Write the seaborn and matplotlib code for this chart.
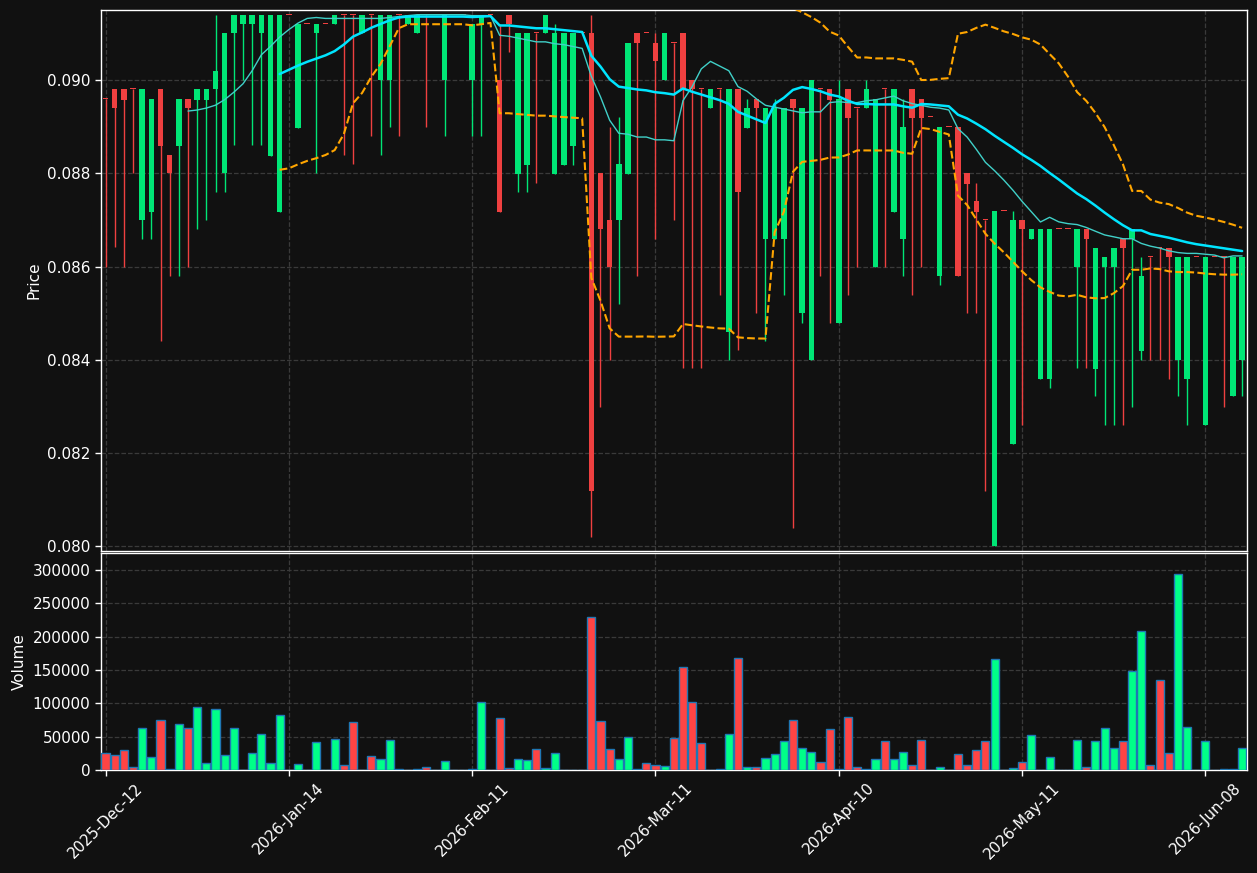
import numpy as np
import pandas as pd
import matplotlib
matplotlib.use("Agg")
import matplotlib.pyplot as plt
import seaborn as sns

tick_labels = ['2025-Dec-12', '2026-Jan-14', '2026-Feb-11', '2026-Mar-11',
               '2026-Apr-10', '2026-May-11', '2026-Jun-08']

opens = [0.08959, 0.08981, 0.08981, 0.08981, 0.08699, 0.08718, 0.08981, 0.0884, 0.08859, 0.08959,
         0.08958, 0.08958, 0.0898, 0.0880, 0.0910, 0.0912, 0.0912, 0.0910, 0.08838, 0.08718,
         0.0914, 0.08898, 0.0912, 0.0910, 0.0912, 0.0912, 0.0914, 0.0914, 0.0910, 0.0914,
         0.0900, 0.0900, 0.0914, 0.0912, 0.0910, 0.0914, 0.0914, 0.0900, 0.0914, 0.0914,
         0.0900, 0.0912, 0.0914, 0.0900, 0.0914, 0.08799, 0.08818, 0.0910, 0.0910, 0.08799,
         0.08818, 0.08859, 0.0910, 0.0910, 0.0880, 0.0870, 0.08699, 0.08799, 0.0910, 0.0910,
         0.0908, 0.0900, 0.0908, 0.0910, 0.0900, 0.0898, 0.08939, 0.0898, 0.08459, 0.0898,
         0.08898, 0.08959, 0.08658, 0.08658, 0.08658, 0.08959, 0.0850, 0.0840, 0.0898, 0.0898,
         0.0848, 0.0898, 0.0894, 0.08939, 0.08598, 0.0898, 0.08718, 0.08658, 0.0898, 0.08959,
         0.0892, 0.0858, 0.0890, 0.0890, 0.0880, 0.08741, 0.0870, 0.0800, 0.0872, 0.08219,
         0.0870, 0.08658, 0.08358, 0.08358, 0.0868, 0.0868, 0.08598, 0.0868, 0.0838, 0.08598,
         0.08598, 0.0866, 0.08658, 0.08418, 0.08621, 0.08639, 0.08639, 0.0840, 0.08358, 0.08621,
         0.08261, 0.08621, 0.08621, 0.08322, 0.0840]

highs = [0.08959, 0.08981, 0.08981, 0.08981, 0.08981, 0.08959, 0.08981, 0.0884, 0.08959, 0.08959,
         0.08981, 0.08981, 0.0914, 0.0910, 0.0914, 0.0914, 0.0914, 0.0914, 0.0914, 0.0914,
         0.0914, 0.0912, 0.0912, 0.0912, 0.0912, 0.0914, 0.0914, 0.0914, 0.0914, 0.0914,
         0.0914, 0.0914, 0.0914, 0.0914, 0.0914, 0.0914, 0.0914, 0.0914, 0.0914, 0.0914,
         0.0912, 0.0914, 0.0914, 0.0912, 0.0914, 0.0910, 0.0910, 0.0910, 0.0914, 0.0912,
         0.0910, 0.0910, 0.0910, 0.0914, 0.0880, 0.08899, 0.0892, 0.0908, 0.0910, 0.0910,
         0.0910, 0.0910, 0.0908, 0.0910, 0.0900, 0.0898, 0.0898, 0.0898, 0.0898, 0.0898,
         0.08959, 0.08959, 0.0894, 0.08959, 0.0894, 0.08959, 0.0894, 0.0900, 0.0898, 0.0898,
         0.0900, 0.0898, 0.0894, 0.0900, 0.08959, 0.0898, 0.0898, 0.08959, 0.0898, 0.08959,
         0.0892, 0.0890, 0.0890, 0.0890, 0.0880, 0.08779, 0.0870, 0.0872, 0.0872, 0.0872,
         0.0870, 0.0868, 0.0868, 0.0868, 0.0868, 0.0868, 0.0868, 0.0868, 0.08639, 0.08621,
         0.08639, 0.0866, 0.0868, 0.08621, 0.08621, 0.08639, 0.08639, 0.08621, 0.08621, 0.08621,
         0.08621, 0.08621, 0.08621, 0.08621, 0.08621]

lows = [0.0860, 0.08641, 0.0860, 0.0880, 0.0866, 0.0866, 0.0844, 0.0858, 0.0858, 0.0860,
        0.08681, 0.08699, 0.0876, 0.0876, 0.0886, 0.0900, 0.0886, 0.0886, 0.08838, 0.08718,
        0.0914, 0.08898, 0.0912, 0.0880, 0.0912, 0.0912, 0.0884, 0.0882, 0.0910, 0.0888,
        0.0884, 0.0890, 0.0888, 0.0912, 0.0910, 0.0890, 0.0914, 0.0888, 0.0914, 0.0914,
        0.0888, 0.0888, 0.0914, 0.08718, 0.0906, 0.0876, 0.0876, 0.08779, 0.0910, 0.08799,
        0.08818, 0.08818, 0.0910, 0.08021, 0.08299, 0.0840, 0.0852, 0.08799, 0.0858, 0.0910,
        0.0866, 0.0900, 0.0870, 0.08382, 0.08382, 0.08382, 0.08939, 0.0854, 0.0840, 0.0842,
        0.08898, 0.0850, 0.0844, 0.08658, 0.0854, 0.0804, 0.0848, 0.0840, 0.0858, 0.0848,
        0.0848, 0.0854, 0.0860, 0.08939, 0.08598, 0.0860, 0.08718, 0.0858, 0.0854, 0.0860,
        0.0892, 0.0856, 0.0890, 0.0858, 0.0850, 0.0850, 0.08119, 0.0800, 0.0872, 0.08219,
        0.08261, 0.08658, 0.08358, 0.0834, 0.0868, 0.0868, 0.08382, 0.08382, 0.08322, 0.08261,
        0.08261, 0.08261, 0.08299, 0.0840, 0.0840, 0.0840, 0.08358, 0.08322, 0.08261, 0.08621,
        0.08261, 0.08621, 0.08299, 0.08322, 0.08322]

closes = [0.08959, 0.08939, 0.08958, 0.08981, 0.08981, 0.08959, 0.08859, 0.0880, 0.08959, 0.08939,
          0.08981, 0.08981, 0.0902, 0.0910, 0.0914, 0.0914, 0.0914, 0.0914, 0.0914, 0.0914,
          0.0914, 0.0912, 0.0912, 0.0912, 0.0912, 0.0914, 0.0914, 0.0914, 0.0914, 0.0914,
          0.0914, 0.0914, 0.0914, 0.0914, 0.0914, 0.0914, 0.0914, 0.0914, 0.0914, 0.0914,
          0.0912, 0.0914, 0.0914, 0.08718, 0.0912, 0.0910, 0.0910, 0.0910, 0.0914, 0.0910,
          0.0910, 0.0910, 0.0910, 0.08119, 0.0868, 0.08598, 0.0882, 0.0908, 0.0908, 0.0910,
          0.0904, 0.0910, 0.0908, 0.08979, 0.0898, 0.0898, 0.0898, 0.0898, 0.0898, 0.08759,
          0.0894, 0.08939, 0.0894, 0.0894, 0.0894, 0.08939, 0.0894, 0.0900, 0.0898, 0.08958,
          0.08959, 0.08919, 0.0894, 0.0898, 0.08959, 0.0898, 0.0898, 0.0890, 0.08919, 0.08919,
          0.0892, 0.0890, 0.0890, 0.0858, 0.08778, 0.08718, 0.0870, 0.0872, 0.0872, 0.0870,
          0.0868, 0.0868, 0.0868, 0.0868, 0.0868, 0.0868, 0.0868, 0.08658, 0.08639, 0.08621,
          0.08639, 0.08639, 0.0868, 0.0858, 0.08621, 0.08639, 0.08621, 0.08621, 0.08621, 0.08621,
          0.08621, 0.08621, 0.08621, 0.08621, 0.08621]

volumes = [24900, 21900, 29400, 5000, 63700, 19900, 75700, 1000, 69700, 63700,
           95100, 10000, 92100, 21900, 63700, 0, 24900, 53300, 10000, 83200,
           0, 8500, 0, 41300, 0, 45800, 7000, 72700, 0, 20400,
           15900, 44300, 1000, 0, 1000, 4000, 0, 12900, 0, 0,
           1000, 102600, 0, 78700, 2500, 16900, 14400, 30900, 2500, 24900,
           0, 0, 0, 229600, 74200, 30900, 15900, 48800, 1000, 10000,
           7000, 5500, 47300, 154900, 102600, 39800, 0, 1000, 53300, 168300,
           4000, 4000, 17400, 23400, 42800, 75700, 32400, 26400, 11500, 60800,
           1000, 80200, 5000, 1000, 15900, 42800, 16900, 26400, 7000, 44300,
           0, 5000, 0, 23400, 7000, 29400, 42800, 166800, 0, 2500,
           11500, 51800, 0, 19900, 0, 0, 44300, 4000, 42800, 63700,
           32400, 42800, 148900, 208700, 7000, 135500, 24900, 293800, 65200, 0,
           42800, 0, 1000, 1000, 32400]

df = pd.DataFrame({"open": opens, "high": highs, "low": lows,
                   "close": closes, "volume": volumes})
df["idx"] = np.arange(len(df))
df["sma10"] = df["close"].rolling(10).mean()
df["sma20"] = df["close"].rolling(20).mean()
std20 = df["close"].rolling(20).std()
df["bb_up"] = df["sma20"] + 2 * std20
df["bb_lo"] = df["sma20"] - 2 * std20

BG = "#111111"
sns.set_theme(style="dark", rc={
    "figure.facecolor": BG, "axes.facecolor": BG, "axes.edgecolor": "white",
    "text.color": "white", "axes.labelcolor": "white",
    "xtick.color": "white", "ytick.color": "white",
    "grid.color": "#3a3a3a", "grid.linestyle": "--", "grid.linewidth": 0.9,
})
plt.rcParams["font.family"] = ["DejaVu Sans"]

up = df["close"] > df["open"]
candle_colors = np.where(up, "#00e676", "#ef4040")
vol_colors = np.where(up, "#00ff88", "#ff4444")

fig = plt.figure(figsize=(12.57, 8.73), dpi=100)
ax = fig.add_axes([0.0803, 0.3688, 0.9115, 0.6197])
axv = fig.add_axes([0.0803, 0.1180, 0.9115, 0.2486], sharex=ax)

# wicks
ax.vlines(df["idx"], df["low"], df["high"], colors=candle_colors, linewidth=1.0, zorder=2)
# bodies
body_bottom = np.minimum(df["open"], df["close"])
body_h = np.maximum(np.abs(df["close"] - df["open"]), 0.00002)
ax.bar(df["idx"], body_h, bottom=body_bottom, width=0.6, color=candle_colors,
       linewidth=0, zorder=3)

sns.lineplot(data=df, x="idx", y="sma10", ax=ax, color="#40d0c8", linewidth=1.0, zorder=4)
sns.lineplot(data=df, x="idx", y="sma20", ax=ax, color="#00e5ff", linewidth=1.8, zorder=5)
sns.lineplot(data=df, x="idx", y="bb_up", ax=ax, color="#ffa500", linewidth=1.5,
             linestyle="--", zorder=4)
sns.lineplot(data=df, x="idx", y="bb_lo", ax=ax, color="#ffa500", linewidth=1.5,
             linestyle="--", zorder=4)

ax.set_ylim(0.0799, 0.09150)
ax.set_xlim(-0.5, len(df) - 0.5)
ax.set_yticks(np.arange(0.080, 0.0901, 0.002))
ax.yaxis.set_major_formatter(matplotlib.ticker.FormatStrFormatter("%.3f"))
ax.set_ylabel("Price", fontsize=11)
ax.set_xlabel("")
ax.grid(True, which="major", axis="both")
ax.tick_params(axis="x", labelbottom=False, bottom=False)
ax.tick_params(axis="y", labelsize=11, left=True, length=4, width=1)

axv.bar(df["idx"], df["volume"], width=0.88, color=vol_colors,
        edgecolor="#1f77b4", linewidth=1.0, zorder=3)
axv.set_ylim(0, 325500)
axv.set_yticks(np.arange(0, 300001, 50000))
axv.yaxis.set_major_formatter(matplotlib.ticker.FuncFormatter(lambda v, p: f"{int(v)}"))
axv.set_ylabel("Volume", fontsize=11)
axv.grid(True, which="major", axis="both")
tick_pos = np.arange(0, len(df), 20)[:len(tick_labels)]
axv.set_xticks(tick_pos)
axv.set_xticklabels(tick_labels, rotation=45, ha="center", fontsize=11)
axv.tick_params(axis="y", labelsize=11, left=True, length=4, width=1)
axv.tick_params(axis="x", bottom=True, length=4, width=1)
axv.set_xlim(-0.5, len(df) - 0.5)

for a in (ax, axv):
    for s in a.spines.values():
        s.set_color("white")
        s.set_linewidth(1.0)

fig.savefig("out.png", dpi=100, facecolor=BG)
